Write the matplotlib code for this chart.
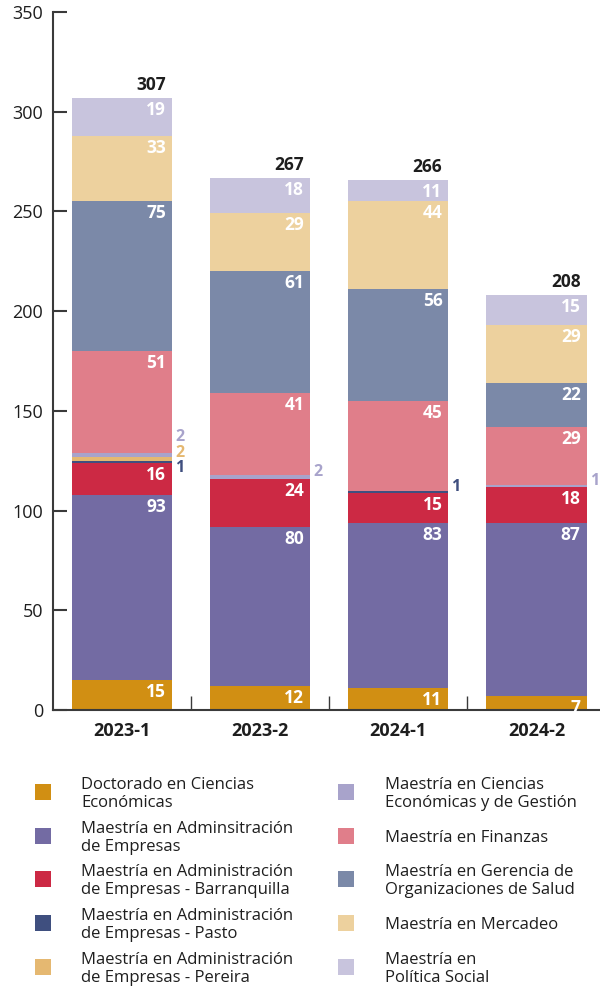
import matplotlib.pyplot as plt
from matplotlib.patches import Rectangle
import numpy as np

plt.rcParams["font.family"] = ["Open Sans", "DejaVu Sans"]

# --- data -----------------------------------------------------------------
PERIODS = ["2023-1", "2023-2", "2024-1", "2024-2"]

SERIES = [
    "Doctorado en Ciencias\nEconómicas",
    "Maestría en Adminsitración\nde Empresas",
    "Maestría en Administración\nde Empresas - Barranquilla",
    "Maestría en Administración\nde Empresas - Pasto",
    "Maestría en Administración\nde Empresas - Pereira",
    "Maestría en Ciencias\nEconómicas y de Gestión",
    "Maestría en Finanzas",
    "Maestría en Gerencia de\nOrganizaciones de Salud",
    "Maestría en Mercadeo",
    "Maestría en\nPolítica Social",
]

doctorado = [15, 12, 11, 7]
mae = [93, 80, 83, 87]
mae_barranquilla = [16, 24, 15, 18]
mae_pasto = [1, 0, 1, 0]
mae_pereira = [2, 0, 0, 0]
ciencias_gestion = [2, 2, 0, 1]
finanzas = [51, 41, 45, 29]
gerencia_salud = [75, 61, 56, 22]
mercadeo = [33, 29, 44, 29]
politica_social = [19, 18, 11, 15]

VALUES = [doctorado, mae, mae_barranquilla, mae_pasto, mae_pereira,
          ciencias_gestion, finanzas, gerencia_salud, mercadeo, politica_social]

COLOURS = ["#D18F13", "#736BA3", "#CC2944", "#3F4F7F", "#E5B871",
           "#A8A3CB", "#E07E8A", "#7B89A8", "#EDD19E", "#C8C4DD"]

# --- figure ---------------------------------------------------------------
W, H = 600, 992
fig = plt.figure(figsize=(W / 100, H / 100), dpi=100)
ax = fig.add_axes([53 / W, 1 - 710 / H, 1 - 53 / W, 698 / H])

AXIS_COL = "#3a3a3a"
TEXT_COL = "#1e1e1e"
x = np.arange(len(PERIODS))
bw = 0.725
bottom = np.zeros(len(PERIODS))
small = {i: [] for i in range(len(PERIODS))}

for s, (vals, col) in enumerate(zip(VALUES, COLOURS)):
    vals = np.array(vals, dtype=float)
    ax.bar(x, vals, bw, bottom=bottom, color=col, linewidth=0, zorder=2)
    for i, v in enumerate(vals):
        if v <= 0:
            continue
        top = bottom[i] + v
        if v > 2:
            ax.annotate(f"{int(v)}", xy=(x[i] + bw / 2, top), xytext=(-6, -3),
                        textcoords="offset pixels", ha="right", va="top",
                        color="white", fontsize=12.5, fontweight="bold",
                        zorder=3)
        else:
            small[i].append((s, bottom[i], top, v))
    bottom += vals

# small segments labelled outside the bar, stacked upward
for i, segs in small.items():
    if not segs:
        continue
    yc = (segs[0][1] + segs[-1][2]) / 2
    n = len(segs)
    for k, (s, b, t, v) in enumerate(segs):
        dy = 5 + (k - (n - 1) / 2) * 15.5
        ax.annotate(f"{int(v)}", xy=(x[i] + bw / 2, yc), xytext=(3, dy),
                    textcoords="offset pixels", ha="left", va="center",
                    color=COLOURS[s], fontsize=11.5, fontweight="bold",
                    annotation_clip=False, zorder=3)

# totals
for i, tot in enumerate(bottom):
    ax.annotate(f"{int(tot)}", xy=(x[i] + bw / 2, tot), xytext=(-6, 4),
                textcoords="offset pixels", ha="right", va="bottom",
                color=TEXT_COL, fontsize=12.5, fontweight="bold")

ax.set_xlim(-0.5, 3.46)
ax.set_ylim(0, 350)
ax.set_yticks(np.arange(0, 351, 50))
ax.set_xticks(x)
ax.set_xticklabels(PERIODS, fontsize=13, fontweight="bold", color=TEXT_COL)
ax.set_xticks(x[:-1] + 0.5, minor=True)
ax.tick_params(axis="y", direction="in", length=10, width=1.5, color=AXIS_COL,
               labelsize=13, labelcolor=TEXT_COL, pad=7)
ax.tick_params(axis="x", which="major", length=0, pad=9)
ax.tick_params(axis="x", which="minor", direction="in", length=10, width=1,
               color=AXIS_COL)
for side in ["top", "right"]:
    ax.spines[side].set_visible(False)
for side in ["left", "bottom"]:
    ax.spines[side].set_color(AXIS_COL)
    ax.spines[side].set_linewidth(1.5)

# --- legend (two columns, drawn by hand) ----------------------------------
rows_y = [792, 836, 879, 923, 967]
cols = [(35, 81), (338, 385)]
sq = 16
for s, (label, col) in enumerate(zip(SERIES, COLOURS)):
    c, r = divmod(s, 5)
    sx, tx = cols[c]
    cy = rows_y[r]
    fig.add_artist(Rectangle((sx / W, 1 - (cy + sq / 2) / H), sq / W, sq / H,
                             transform=fig.transFigure, color=col, lw=0))
    fig.text(tx / W, 1 - (cy + 2) / H, label, ha="left", va="center",
             fontsize=12, color=TEXT_COL, linespacing=1.1)

fig.savefig("out.png", dpi=100)
